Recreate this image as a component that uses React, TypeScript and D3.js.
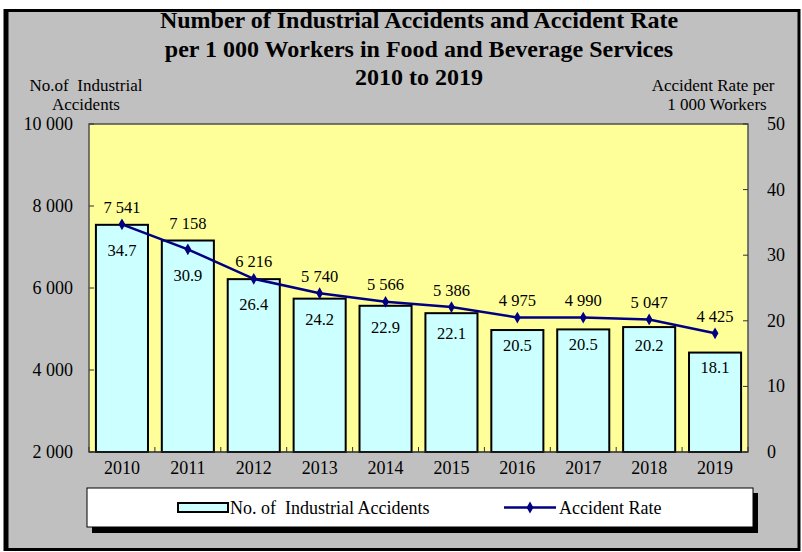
import React from "react";
import * as d3 from "d3";

const years = ["2010", "2011", "2012", "2013", "2014", "2015", "2016", "2017", "2018", "2019"];
const accidents = [7541, 7158, 6216, 5740, 5566, 5386, 4975, 4990, 5047, 4425];
const rates = [34.7, 30.9, 26.4, 24.2, 22.9, 22.1, 20.5, 20.5, 20.2, 18.1];
const leftTicks = [2000, 4000, 6000, 8000, 10000];
const rightTicks = [0, 10, 20, 30, 40, 50];
const titleLines = [
  "Number of Industrial Accidents and Accident Rate",
  "per 1 000 Workers in Food and Beverage Services",
  "2010 to 2019",
];

const W = 802;
const H = 552;
const plot = { left: 89, right: 748, top: 124, bottom: 452 };
const pre = { whiteSpace: "pre" as const };

const fmt = (n: number) => {
  const s = String(n);
  return s.length > 3 ? s.slice(0, s.length - 3) + " " + s.slice(-3) : s;
};

export default function App() {
  const x = d3
    .scaleBand<string>()
    .domain(years)
    .range([plot.left, plot.right])
    .paddingInner(0.21)
    .paddingOuter(0.105);
  const yL = d3.scaleLinear().domain([2000, 10000]).range([plot.bottom, plot.top]);
  const yR = d3.scaleLinear().domain([0, 50]).range([plot.bottom, plot.top]);
  const cx = (y: string) => (x(y) ?? 0) + x.bandwidth() / 2;

  const line = d3
    .line<number>()
    .x((_, i) => cx(years[i]))
    .y((d) => yR(d));

  const diamond = d3.symbol().type(d3.symbolDiamond).size(40)();
  const step = x.step();

  return (
    <svg
      width={W}
      height={H}
      fontFamily="Liberation Serif"
      style={{ position: "absolute", left: 0, top: 0, fontFamily: '"Liberation Serif"' }}
    >
      <style>{`svg text { font-family: "Liberation Serif", "Times New Roman", Tinos, serif; }`}</style>
      <rect x={0} y={0} width={W} height={H} fill="#ffffff" />
      {/* outer frame */}
      <rect x={5} y={10.5} width={794} height={539} fill="#c0c0c0" stroke="#000" strokeWidth={3} />
      <line x1={6.5} x2={6.5} y1={10} y2={550} stroke="#000" strokeWidth={4} />

      {/* titles */}
      {titleLines.map((t, i) => (
        <text key={i} x={419} y={28 + i * 28.5} textAnchor="middle" fontWeight="bold" fontSize={24}>
          {t}
        </text>
      ))}
      <text x={86} y={91} textAnchor="middle" fontSize={17} style={pre}>No.of  Industrial</text>
      <text x={86} y={110} textAnchor="middle" fontSize={17}>Accidents</text>
      <text x={713} y={91} textAnchor="middle" fontSize={17}>Accident Rate per</text>
      <text x={717} y={110} textAnchor="middle" fontSize={17}>1 000 Workers</text>

      {/* plot area */}
      <rect
        x={plot.left}
        y={plot.top}
        width={plot.right - plot.left}
        height={plot.bottom - plot.top}
        fill="#ffff99"
        stroke="#505050"
        strokeWidth={1.5}
      />

      {/* left axis ticks */}
      {leftTicks.map((t) => (
        <g key={"l" + t}>
          <line x1={plot.left} x2={plot.left + 5} y1={yL(t)} y2={yL(t)} stroke="#333" strokeWidth={1} />
          <text x={73} y={yL(t) + 6} textAnchor="end" fontSize={18}>
            {fmt(t)}
          </text>
        </g>
      ))}
      {/* right axis ticks */}
      {rightTicks.map((t) => (
        <g key={"r" + t}>
          <line x1={plot.right - 5} x2={plot.right} y1={yR(t)} y2={yR(t)} stroke="#333" strokeWidth={1} />
          <text x={767} y={yR(t) + 6} textAnchor="start" fontSize={18}>
            {t}
          </text>
        </g>
      ))}
      {/* bottom ticks at band boundaries */}
      {d3.range(years.length + 1).map((i) => {
        const xx = plot.left + i * step;
        return (
          <line key={"b" + i} x1={xx} x2={xx} y1={plot.bottom} y2={plot.bottom - 5} stroke="#333" strokeWidth={1} />
        );
      })}

      {/* bars */}
      {years.map((yr, i) => (
        <rect
          key={"bar" + yr}
          x={x(yr)}
          y={yL(accidents[i])}
          width={x.bandwidth()}
          height={plot.bottom - yL(accidents[i])}
          fill="#ccffff"
          stroke="#000"
          strokeWidth={2}
        />
      ))}
      <line x1={plot.left} x2={plot.right} y1={plot.bottom} y2={plot.bottom} stroke="#333" strokeWidth={1} />

      {/* line */}
      <path d={line(rates) ?? ""} fill="none" stroke="#000080" strokeWidth={2.5} />
      {rates.map((r, i) => (
        <path
          key={"m" + i}
          d={diamond ?? ""}
          transform={`translate(${cx(years[i])},${yR(r)})`}
          fill="#000080"
        />
      ))}

      {/* labels */}
      {years.map((yr, i) => {
        const barTop = yL(accidents[i]);
        const pt = yR(rates[i]);
        const above = Math.min(barTop, pt) - 17;
        const below = Math.max(pt + 26, barTop + 15);
        return (
          <g key={"lab" + yr}>
            <text x={cx(yr)} y={above + 5.5} textAnchor="middle" fontSize={16.5}>
              {fmt(accidents[i])}
            </text>
            <text x={cx(yr)} y={below + 5.5} textAnchor="middle" fontSize={16.5}>
              {rates[i].toFixed(1)}
            </text>
          </g>
        );
      })}

      {/* x labels */}
      {years.map((yr) => (
        <text key={"x" + yr} x={cx(yr)} y={474} textAnchor="middle" fontSize={18}>
          {yr}
        </text>
      ))}

      {/* legend */}
      <rect x={92} y={493} width={666} height={40} fill="#000" />
      <rect x={87} y={488} width={666} height={39} fill="#fff" stroke="#000" strokeWidth={1} />
      <rect x={178} y={503} width={50} height={9} fill="#ccffff" stroke="#000" strokeWidth={2} />
      <text x={230} y={514} fontSize={18} style={pre}>No. of  Industrial Accidents</text>
      <line x1={504} x2={556} y1={507.5} y2={507.5} stroke="#000080" strokeWidth={2.5} />
      <path d={diamond ?? ""} transform="translate(530,507.5)" fill="#000080" />
      <text x={559} y={514} fontSize={18}>Accident Rate</text>
    </svg>
  );
}
